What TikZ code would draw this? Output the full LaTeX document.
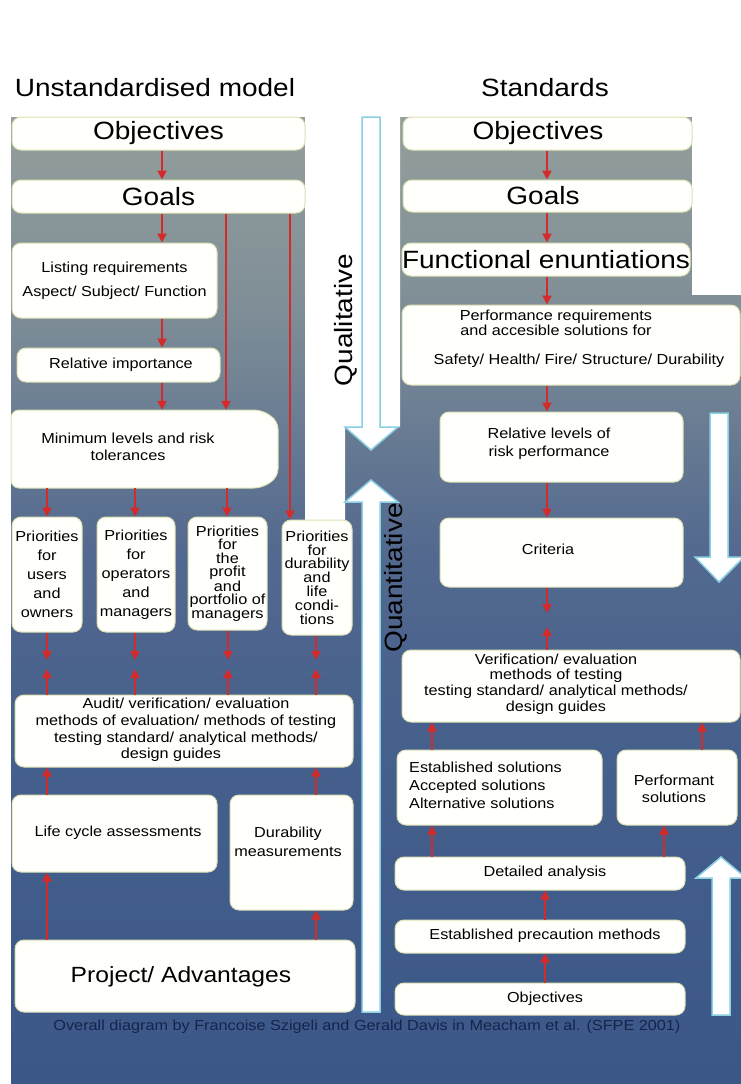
\documentclass[tikz,border=0pt]{standalone}
\usepackage{fontspec}
\setmainfont{Liberation Sans}[FakeStretch=1.12]
\usetikzlibrary{arrows.meta}

\definecolor{redarr}{HTML}{D42A2A}
\definecolor{boxedge}{HTML}{DCE0B4}
\definecolor{boxfill}{HTML}{FFFFFB}
\definecolor{bigedge}{HTML}{8ACFE2}
\definecolor{captionblue}{HTML}{15244A}
\definecolor{shA}{HTML}{949F9C}
\definecolor{shB}{HTML}{808F97}
\definecolor{shC}{HTML}{6A7D93}
\definecolor{shD}{HTML}{53698F}
\definecolor{shE}{HTML}{45608C}
\definecolor{shF}{HTML}{3B5788}

% panel background: grey-green at the top, navy at the bottom
\pgfdeclareverticalshading{panelshade}{100bp}{color(0bp)=(shF); color(25bp)=(shF); color(42bp)=(shE); color(52.6bp)=(shD); color(59.3bp)=(shC); color(65.5bp)=(shB); color(75bp)=(shA); color(100bp)=(shA)}

\tikzset{
  box/.style={draw=boxedge, line width=1pt, fill=boxfill, rounded corners=9pt, inner sep=0pt, align=center},
  txt/.style={align=center, inner sep=0pt, text=black},
  bigfont/.style={font=\fontsize{25}{30}\selectfont},
  smallfont/.style={font=\fontsize{14.5}{17}\selectfont},
  flow/.style={draw=redarr, line width=2pt, -{Triangle[length=9pt,width=9pt]}},
  bigarrow/.style={draw=bigedge, line width=1.5pt, fill=white, line join=miter},
}

\begin{document}
\begin{tikzpicture}[x=1pt, y=-1pt]
% page and background
\fill[white] (0,0) rectangle (741,1084);
\useasboundingbox (0,0) rectangle (741,1084);
\shade[shading=panelshade] (11,117) rectangle (741,1084);
\fill[white] (305,117) -- (400,117) -- (400,427) -- (345,427) -- (345,560) -- (305,560) -- cycle;
\fill[white] (692,117) rectangle (741,295);

% broad direction arrows
\draw[bigarrow] (362,117) -- (380,117) -- (380,427) -- (398,427) -- (371,450) -- (345,427) -- (362,427) -- cycle;
\draw[bigarrow] (362,1012) -- (380,1012) -- (380,502) -- (398,502) -- (371,480) -- (345,502) -- (362,502) -- cycle;
\draw[bigarrow] (710,413) -- (728,413) -- (728,557) -- (744,557) -- (719,582) -- (695,557) -- (710,557) -- cycle;
\draw[bigarrow] (712,1015) -- (730,1015) -- (730,878) -- (746,878) -- (721,857) -- (696,878) -- (712,878) -- cycle;

% titles
\node[txt, bigfont] (titleL) at (155,88) {Unstandardised model};
\node[txt, bigfont] (titleR) at (545,88) {Standards};

% ---------------- unstandardised model ----------------
\node[box, bigfont, minimum width=293pt, minimum height=33pt] (objL) at (158.5,133.5) {Objectives};
\node[box, bigfont, minimum width=293pt, minimum height=33pt] (goalL) at (158.5,196.5) {Goals};
\node[box, font=\fontsize{14.5}{24}\selectfont, minimum width=205pt, minimum height=75pt] (listing) at (114.5,280.5) {Listing requirements\\Aspect/ Subject/ Function};
\node[box, minimum width=203pt, minimum height=34pt] (relimp) at (118.5,365) {};
\node[txt, smallfont] (relimp-t) at (121,365) {Relative importance};

% minimum levels: rounded on the left, chamfered on the right
\draw[draw=boxedge, line width=1pt, fill=boxfill, rounded corners=8pt]
  (262,410) -- (278,421) -- (278,477) -- (262,488) -- (11,488) -- (11,410) -- cycle;
\node[inner sep=0pt, minimum width=267pt, minimum height=78pt] (minlev) at (144.5,449) {};
\node[txt, smallfont] (minlev-t) at (128,447) {Minimum levels and risk\\tolerances};

\node[box, font=\fontsize{14.5}{19}\selectfont, minimum width=70pt, minimum height=115pt] (pri1) at (47,574.5) {Priorities\\for\\users\\and\\owners};
\node[box, font=\fontsize{14.5}{19}\selectfont, minimum width=78pt, minimum height=115pt] (pri2) at (136,574.5) {Priorities\\for\\operators\\and\\managers};
\node[box, font=\fontsize{14.5}{13.5}\selectfont, minimum width=79pt, minimum height=113pt] (pri3) at (227.5,573.5) {Priorities\\for\\the\\profit\\and\\portfolio of\\managers};
\node[box, font=\fontsize{14.5}{13.8}\selectfont, minimum width=70pt, minimum height=115pt] (pri4) at (317,577.5) {Priorities\\for\\durability\\and\\life\\condi-\\tions};

\node[box, minimum width=338pt, minimum height=72pt] (audit) at (184,731) {};
\node[txt, font=\fontsize{14.5}{16.8}\selectfont] (audit-t) at (186,730) {Audit/ verification/ evaluation\\methods of evaluation/ methods of testing\\testing standard/ analytical methods/\hspace*{22pt}\\design guides\hspace*{30pt}};

\node[box, minimum width=205pt, minimum height=77pt] (life) at (114.5,833.5) {};
\node[txt, smallfont] (life-t) at (118,833) {Life cycle assessments};
\node[box, minimum width=123pt, minimum height=115pt] (durab) at (291.5,852.5) {};
\node[txt, font=\fontsize{14.5}{19}\selectfont] (durab-t) at (288,842) {Durability\\measurements};
\node[box, minimum width=340pt, minimum height=72pt] (project) at (185,976) {};
\node[txt, font=\fontsize{22}{26}\selectfont] (project-t) at (181,977) {Project/ Advantages};

% ---------------- standards ----------------
\node[box, minimum width=289pt, minimum height=33pt] (objR) at (547.5,133.5) {};
\node[txt, bigfont] (objR-t) at (538,133) {Objectives};
\node[box, minimum width=289pt, minimum height=32pt] (goalR) at (547.5,196) {};
\node[txt, bigfont] (goalR-t) at (543,196) {Goals};
\node[box, bigfont, minimum width=288pt, minimum height=33pt] (func) at (546,259.5) {Functional enuntiations};
\node[box, minimum width=338pt, minimum height=80pt] (perf) at (571,345) {};
\node[txt, font=\fontsize{14.5}{14.5}\selectfont] (perf-a) at (556,323) {Performance requirements\\and accesible solutions for};
\node[txt, smallfont] (perf-b) at (579,361) {Safety/ Health/ Fire/ Structure/ Durability};
\node[box, minimum width=243pt, minimum height=70pt] (rellev) at (561.5,447) {};
\node[txt, font=\fontsize{14.5}{18}\selectfont] (rellev-t) at (549,444) {Relative levels of\\risk performance};
\node[box, minimum width=243pt, minimum height=69pt] (crit) at (561.5,552.5) {};
\node[txt, smallfont] (crit-t) at (548,549) {Criteria};
\node[box, minimum width=338pt, minimum height=72pt] (verif) at (571,686) {};
\node[txt, font=\fontsize{14.5}{15.7}\selectfont] (verif-t) at (556,684) {Verification/ evaluation\\methods of testing\\testing standard/ analytical methods/\\design guides};
\node[box, minimum width=205pt, minimum height=75pt] (estsol) at (499.5,787.5) {};
\node[txt, font=\fontsize{14.5}{18}\selectfont, align=left, anchor=west] (estsol-t) at (409,785) {Established solutions\\Accepted solutions\\Alternative solutions};
\node[box, minimum width=120pt, minimum height=75pt] (perfsol) at (677,787.5) {};
\node[txt, font=\fontsize{14.5}{17}\selectfont] (perfsol-t) at (674,789) {Performant\\solutions};
\node[box, minimum width=290pt, minimum height=33pt] (detail) at (540,873.5) {};
\node[txt, smallfont] (detail-t) at (545,873) {Detailed analysis};
\node[box, minimum width=290pt, minimum height=33pt] (precau) at (540,936.5) {};
\node[txt, smallfont] (precau-t) at (545,936) {Established precaution methods};
\node[box, minimum width=290pt, minimum height=32pt] (objB) at (540,999) {};
\node[txt, smallfont] (objB-t) at (545,999) {Objectives};

% arrow columns
\coordinate (cA) at (47,0);
\coordinate (cB) at (135,0);
\coordinate (cC) at (227,0);
\coordinate (cD) at (316,0);
\coordinate (cL) at (162,0);
\coordinate (cM) at (226,0);
\coordinate (cN) at (290,0);
\coordinate (cR) at (547,0);
\coordinate (cS) at (432,0);
\coordinate (cT) at (702,0);
\coordinate (cU) at (664,0);
\coordinate (cV) at (545,0);

% free ends where opposing arrows meet
\coordinate (m1d) at (47,660);  \coordinate (m1u) at (47,669);
\coordinate (m2d) at (135,660); \coordinate (m2u) at (135,669);
\coordinate (m3d) at (228,660); \coordinate (m3u) at (228,669);
\coordinate (m4d) at (316,660); \coordinate (m4u) at (316,669);
\coordinate (mRd) at (547,613); \coordinate (mRu) at (547,627);

% left flow
\draw[flow] (objL.south -| cL) -- (goalL.north -| cL);
\draw[flow] (goalL.south -| cL) -- (listing.north -| cL);
\draw[flow] (listing.south -| cL) -- (relimp.north -| cL);
\draw[flow] (relimp.south -| cL) -- (minlev.north -| cL);
\draw[flow] (goalL.south -| cM) -- (minlev.north -| cM);
\draw[flow] (goalL.south -| cN) -- (pri4.north -| cN);
\draw[flow] (minlev.south -| cA) -- (pri1.north -| cA);
\draw[flow] (minlev.south -| cB) -- (pri2.north -| cB);
\draw[flow] (minlev.south -| cC) -- (pri3.north -| cC);
\draw[flow] (pri1.south -| cA) -- (m1d);
\draw[flow] (pri2.south -| cB) -- (m2d);
\draw[flow] (pri3.south -| m3d) -- (m3d);
\draw[flow] (pri4.south -| cD) -- (m4d);
\draw[flow] (audit.north -| cA) -- (m1u);
\draw[flow] (audit.north -| cB) -- (m2u);
\draw[flow] (audit.north -| m3u) -- (m3u);
\draw[flow] (audit.north -| cD) -- (m4u);
\draw[flow] (life.north -| cA) -- (audit.south -| cA);
\draw[flow] (durab.north -| cD) -- (audit.south -| cD);
\draw[flow] (project.north -| cA) -- (life.south -| cA);
\draw[flow] (project.north -| cD) -- (durab.south -| cD);

% right flow
\draw[flow] (objR.south -| cR) -- (goalR.north -| cR);
\draw[flow] (goalR.south -| cR) -- (func.north -| cR);
\draw[flow] (func.south -| cR) -- (perf.north -| cR);
\draw[flow] (perf.south -| cR) -- (rellev.north -| cR);
\draw[flow] (rellev.south -| cR) -- (crit.north -| cR);
\draw[flow] (crit.south -| cR) -- (mRd);
\draw[flow] (verif.north -| cR) -- (mRu);
\draw[flow] (estsol.north -| cS) -- (verif.south -| cS);
\draw[flow] (perfsol.north -| cT) -- (verif.south -| cT);
\draw[flow] (detail.north -| cS) -- (estsol.south -| cS);
\draw[flow] (detail.north -| cU) -- (perfsol.south -| cU);
\draw[flow] (precau.north -| cV) -- (detail.south -| cV);
\draw[flow] (objB.north -| cV) -- (precau.south -| cV);

% side labels
\node[txt, bigfont, rotate=90] (quali) at (346,320) {Qualitative};
\node[txt, bigfont, rotate=90] (quanti) at (396,578) {Quantitative};

% source line
\node[txt, text=captionblue, font=\fontsize{14.5}{17}\selectfont] (source) at (367,1027) {Overall diagram by Francoise Szigeli and Gerald Davis in Meacham et al. (SFPE 2001)};
\end{tikzpicture}
\end{document}
